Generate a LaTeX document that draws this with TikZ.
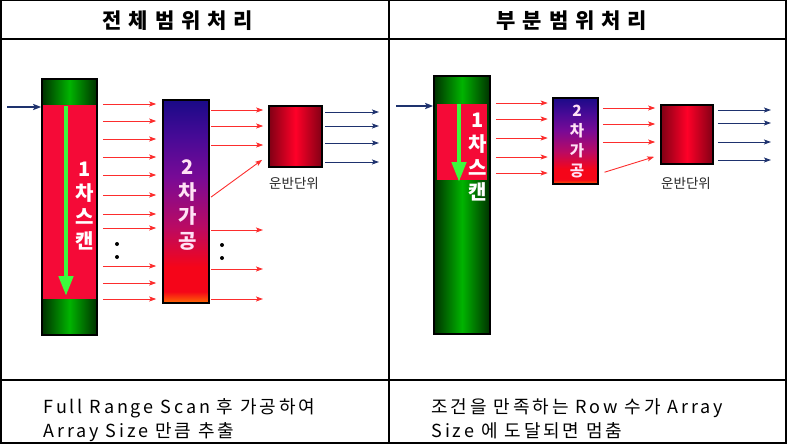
\documentclass[tikz,border=0pt]{standalone}
\usepackage{fontspec}
\setmainfont{Noto Sans CJK KR}
\usepackage{tikz}
\usetikzlibrary{arrows.meta, backgrounds}

\definecolor{scanred}{RGB}{245,10,55}
\definecolor{darkgreen}{RGB}{0,45,0}
\definecolor{litegreen}{RGB}{0,180,0}
\definecolor{arrowgreen}{RGB}{60,250,60}
\definecolor{feedred}{RGB}{252,45,45}
\definecolor{outblue}{RGB}{30,50,110}
\definecolor{unitdark}{RGB}{125,0,20}
\definecolor{unitlite}{RGB}{255,0,40}
\definecolor{labelpink}{RGB}{255,225,245}
\definecolor{porange}{RGB}{255,115,0}
\definecolor{pred}{RGB}{245,5,25}
\definecolor{pmagenta}{RGB}{185,10,100}
\definecolor{ppurple}{RGB}{120,10,150}
\definecolor{pviolet}{RGB}{70,10,150}
\definecolor{pnavy}{RGB}{25,10,135}

\pgfdeclareverticalshading{procshade}{100bp}{color(0bp)=(porange); color(25bp)=(porange);
  color(28bp)=(pred); color(34bp)=(pred); color(44bp)=(pmagenta); color(56bp)=(ppurple);
  color(66bp)=(pviolet); color(75bp)=(pnavy); color(100bp)=(pnavy)}

\begin{document}
\begin{tikzpicture}[x=1pt, y=-1pt,
  box/.style={draw=black, line width=1.6pt, inner sep=0pt},
  redarr/.style={draw=feedred, line width=0.9pt, -{Stealth[length=7pt, width=5pt, inset=1.5pt]}},
  bluearr/.style={draw=outblue, line width=0.9pt, -{Stealth[length=7pt, width=5pt, inset=1.5pt]}},
  inarr/.style={draw=outblue, line width=1.8pt, -{Stealth[length=8pt, width=6pt, inset=1.5pt]}},
  greenarr/.style={draw=arrowgreen, line width=4.5pt, -{Triangle[length=20pt, width=14pt]}},
  scantext/.style={text=white, align=center, font=\bfseries\fontsize{20}{24}\selectfont},
  proctext/.style={text=labelpink, align=center, font=\bfseries\fontsize{20}{24.5}\selectfont},
  unitlabel/.style={font=\fontsize{13.5}{15}\selectfont, text=black!85},
  headtext/.style={font=\bfseries\fontsize{21}{24}\selectfont\addfontfeatures{LetterSpace=33}},
  foottext/.style={font=\fontsize{18}{21}\selectfont\addfontfeatures{LetterSpace=16}, anchor=base west}]
  \useasboundingbox (0,0) rectangle (788,445);

  % table
  \draw[line width=1.4pt] (1,0.7) rectangle (786,443);
  \draw[line width=1.4pt] (1,39) -- (786,39);
  \draw[line width=1.4pt] (1,380) -- (786,380);
  \draw[line width=1.4pt] (389,0.7) -- (389,443);

  \node[headtext] (headA) at (178,21) {전체범위처리};
  \node[headtext] (headB) at (572,21) {부분범위처리};

  % left: full range
  \node[box, minimum width=55pt, minimum height=256pt] (scanA) at (69.5,207) {};
  \node[box, minimum width=46pt, minimum height=203pt] (procA) at (186,201.5) {};
  \node[box, minimum width=53pt, minimum height=61pt] (unitA) at (295.5,136.5) {};
  \begin{scope}[on background layer]
    \shade[left color=darkgreen, right color=darkgreen, middle color=litegreen]
      (scanA.north west) rectangle ([yshift=-27pt]scanA.north east);
    \fill[scanred] ([yshift=-27pt]scanA.north west) rectangle ([yshift=36pt]scanA.south east);
    \shade[left color=darkgreen, right color=darkgreen, middle color=litegreen]
      ([yshift=36pt]scanA.south west) rectangle (scanA.south east);
    \shade[shading=procshade] (procA.north west) rectangle (procA.south east);
    \shade[left color=unitdark, right color=unitdark, middle color=unitlite]
      (unitA.north west) rectangle (unitA.south east);
  \end{scope}

  \coordinate (inA) at (7,107);
  \coordinate (gapA) at (263,0);
  \coordinate (outA) at (379,0);
  \draw[inarr] (inA) -- (scanA.west |- inA);
  \draw[greenarr] (66,106) -- (66,296);
  \node[scantext] (scanAtxt) at (85,206) {1\\차\\스\\캔};
  \node[proctext] (procAtxt) at (188,205) {2\\차\\가\\공};

  \foreach \y in {104,121,139,157,175,195,214,228,266,283,299}
    \draw[redarr, shorten <=5pt, shorten >=6pt] (scanA.east |- 0,\y) -- (procA.west |- 0,\y);
  \foreach \y in {110,126,145}
    \draw[redarr, shorten <=1.5pt, shorten >=5pt] (procA.east |- 0,\y) -- (unitA.west |- 0,\y);
  \foreach \y in {230,269,299}
    \draw[redarr, shorten <=1.5pt] (procA.east |- 0,\y) -- (gapA |- 0,\y);
  \draw[redarr, shorten <=1.5pt] (procA.east |- 0,198) -- ([xshift=-6pt, yshift=8pt]unitA.south west);
  \foreach \y in {112,126,143,162}
    \draw[bluearr, shorten <=2.5pt] (unitA.east |- 0,\y) -- (outA |- 0,\y);
  \node[unitlabel] (unitAlbl) at (294,183) {운반단위};

  \fill (117,244) circle (2pt) (117,257) circle (2pt);
  \fill (222,245) circle (2pt) (222,258) circle (2pt);

  % right: partial range
  \node[box, minimum width=56pt, minimum height=258pt] (scanB) at (462,205) {};
  \node[box, minimum width=45pt, minimum height=86pt] (procB) at (575.5,141) {};
  \node[box, minimum width=52pt, minimum height=59pt] (unitB) at (687,134.5) {};
  \begin{scope}[on background layer]
    \shade[left color=darkgreen, right color=darkgreen, middle color=litegreen]
      (scanB.north west) rectangle (scanB.south east);
    \fill[scanred] (437,104) rectangle (487,180);
    \shade[shading=procshade] (procB.north west) rectangle (procB.south east);
    \shade[left color=unitdark, right color=unitdark, middle color=unitlite]
      (unitB.north west) rectangle (unitB.south east);
  \end{scope}

  \coordinate (inB) at (396,106);
  \coordinate (outB) at (771,0);
  \draw[inarr] (inB) -- (scanB.west |- inB);
  \draw[greenarr] (459,104) -- (459,182);
  \node[scantext] (scanBtxt) at (478,157) {1\\차\\스\\캔};
  \node[proctext, font=\bfseries\fontsize{15.5}{20}\selectfont] (procBtxt) at (577,142) {2\\차\\가\\공};

  \foreach \y in {103,119,138,157,173}
    \draw[redarr, shorten <=5pt, shorten >=4.5pt] (scanB.east |- 0,\y) -- (procB.west |- 0,\y);
  \foreach \y in {108,124,142}
    \draw[redarr, shorten <=4pt, shorten >=5pt] (procB.east |- 0,\y) -- (unitB.west |- 0,\y);
  \draw[redarr, shorten <=6pt] (procB.east |- 0,174) -- ([xshift=-6pt, yshift=8pt]unitB.south west);
  \foreach \y in {110,123,142,160}
    \draw[bluearr, shorten <=4pt] (unitB.east |- 0,\y) -- (outB |- 0,\y);
  \node[unitlabel] (unitBlbl) at (686,183) {운반단위};

  % footer
  \node[foottext] (footA1) at (40,413) {Full Range Scan 후 가공하여};
  \node[foottext] (footA2) at (40,437) {Array Size 만큼 추출};
  \node[foottext] (footB1) at (428,413) {조건을 만족하는 Row 수가 Array};
  \node[foottext] (footB2) at (428,437) {Size 에 도달되면 멈춤};
\end{tikzpicture}
\end{document}
